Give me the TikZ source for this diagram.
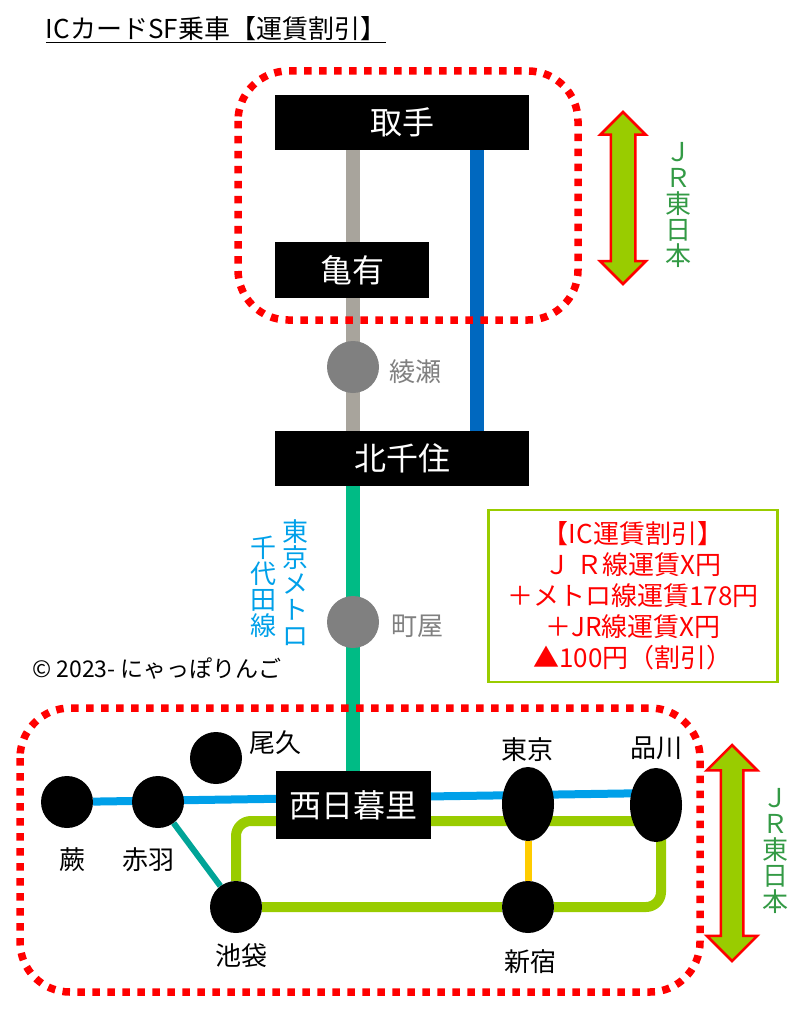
\documentclass[tikz,border=0pt]{standalone}
\usepackage{fontspec}
\setmainfont{Noto Sans CJK JP}
\usetikzlibrary{backgrounds,shapes.geometric,shapes.arrows}

\definecolor{jrgreen}{HTML}{339A45}
\definecolor{metroblue}{HTML}{00A0E9}
\definecolor{yamagreen}{HTML}{99CC00}
\definecolor{chiyoda}{HTML}{00BB85}
\definecolor{joban}{HTML}{A8A49C}
\definecolor{rapid}{HTML}{0068BF}
\definecolor{saikyo}{HTML}{00A497}
\definecolor{chuo}{HTML}{FFCC00}
\definecolor{stopgray}{HTML}{808080}

\begin{document}
\begin{tikzpicture}[x=1pt,y=-1pt,
    line cap=butt,
    station/.style = {
      fill = black,
      circle,
      inner sep = 0pt,
      minimum size = 52pt
    },
    bigstation/.style = {
      fill = black,
      ellipse,
      inner sep = 0pt,
      minimum width = 52pt,
      minimum height = 74pt
    },
    stop/.style = {
      fill = stopgray,
      circle,
      inner sep = 0pt,
      minimum size = 52pt
    },
    namebox/.style = {
      fill = black,
      text = white,
      inner sep = 0pt,
      font = \fontsize{32}{34}\selectfont
    },
    stname/.style = {
      inner sep = 0pt,
      font = \fontsize{26}{28}\selectfont
    },
    stopname/.style = {
      stname,
      text = stopgray
    },
    vtext/.style = {
      inner sep = 0pt,
      align = center,
      font = \fontsize{26}{26}\selectfont
    },
    jrarrow/.style = {
      double arrow,
      rotate = 90,
      draw = red,
      line width = 2.5pt,
      fill = yamagreen,
      inner xsep = 0pt,
      double arrow head indent = 0pt
    },
    dotframe/.style = {
      draw = red,
      line width = 7.5pt,
      rounded corners = 50pt,
      dash pattern = on 7.5pt off 7.5pt
    },
    faretext/.style = {
      draw = yamagreen,
      line width = 2.5pt,
      fill = white,
      minimum width = 289pt,
      minimum height = 172pt,
      inner sep = 0pt,
      align = center,
      text = red,
      font = \fontsize{26}{31}\selectfont
    }
  ]
  \useasboundingbox (0,0) rectangle (810,1024);

  \node [inner sep=0pt, font=\fontsize{26}{28}\selectfont] (title) at (216,29) {ICカードSF乗車【運賃割引】};
  \draw [line width=1.6pt] ([yshift=-1pt]title.south west) -- ([yshift=-1pt]title.south east);

  % line boxes
  \node [namebox, minimum width=254pt, minimum height=55pt] (toride) at (402,122.5) {取手};
  \node [namebox, minimum width=154pt, minimum height=56pt] (kameari) at (352,270) {亀有};
  \node [namebox, minimum width=254pt, minimum height=55pt] (kitasenju) at (402,458.5) {北千住};
  \node [namebox, minimum width=155pt, minimum height=68pt] (nippori) at (353,805) {西日暮里};

  \node [stop] (ayase) at (353,367) {};
  \node [stop] (machiya) at (353,622) {};
  \node [stopname] (ayasename) at (415,372) {綾瀬};
  \node [stopname] (machiyaname) at (417,626) {町屋};

  % JR stations
  \node [station] (warabi) at (67,802) {};
  \node [station] (akabane) at (158,802) {};
  \node [station] (oku) at (216,758) {};
  \node [station] (ikebukuro) at (236,907) {};
  \node [station] (shinjuku) at (528,907) {};
  \node [bigstation] (tokyo) at (528,804) {};
  \node [bigstation] (shinagawa) at (656,805) {};

  \node [stname] (warabiname) at (72,860) {蕨};
  \node [stname] (akabanename) at (148,860) {赤羽};
  \node [stname] (okuname) at (275,743) {尾久};
  \node [stname] (tokyoname) at (527,750) {東京};
  \node [stname] (shinagawaname) at (656,748) {品川};
  \node [stname] (ikebukuroname) at (241,956) {池袋};
  \node [stname] (shinjukuname) at (530,962) {新宿};

  \coordinate (rapidtop) at (477,150);
  \coordinate (rapidbot) at (477,431);
  \coordinate (keihin) at (656,793);
  \coordinate (yamatop) at (656,821);
  \coordinate (yamaright) at (661,830);

  \begin{scope}[on background layer]
    \draw [joban, line width=14pt] (ayase |- toride) -- (ayase |- kitasenju);
    \draw [rapid, line width=14pt] (rapidtop) -- (rapidbot);
    \draw [chiyoda, line width=14pt] (machiya |- kitasenju) -- (machiya |- nippori);
    \draw [metroblue, line width=8pt] (warabi) -- (keihin);
    \draw [yamagreen, line width=10pt, rounded corners=15pt] (ikebukuro) |- (yamatop);
    \draw [yamagreen, line width=10pt, rounded corners=15pt] (ikebukuro) -- (shinjuku) -| (yamaright);
    \draw [saikyo, line width=6pt] (akabane) -- (ikebukuro);
    \draw [chuo, line width=7pt] (tokyo) -- (shinjuku);
  \end{scope}

  % frames and arrows
  \draw [dotframe] (238,71) rectangle (578,320);
  \draw [dotframe] (20,708) rectangle (700,992);

  \node [jrarrow, inner ysep=11pt, minimum height=172pt, double arrow head extend=10.5pt] (arrowtop) at (623,198) {};
  \node [jrarrow, inner ysep=10pt, minimum height=216pt, double arrow head extend=14pt] (arrowbottom) at (732,853) {};

  \node [vtext, text=jrgreen] (jrtop) at (678,205) {Ｊ\\Ｒ\\東\\日\\本};
  \node [vtext, text=jrgreen] (jrbottom) at (775,851) {Ｊ\\Ｒ\\東\\日\\本};
  \node [vtext, text=metroblue] (metroname) at (295,583) {東\\京\\メ\\ト\\ロ};
  \node [vtext, text=metroblue] (chiyodaname) at (263,587) {千\\代\\田\\線};

  \node [faretext] (farebox) at (633,596) {【IC運賃割引】\\Ｊ Ｒ線運賃X円\\＋メトロ線運賃178円\\＋JR線運賃X円\\▲100円（割引）};

  \node [inner sep=0pt, font=\fontsize{23}{25}\selectfont] (credit) at (157,669) {© 2023- にゃっぽりんご};
\end{tikzpicture}
\end{document}
